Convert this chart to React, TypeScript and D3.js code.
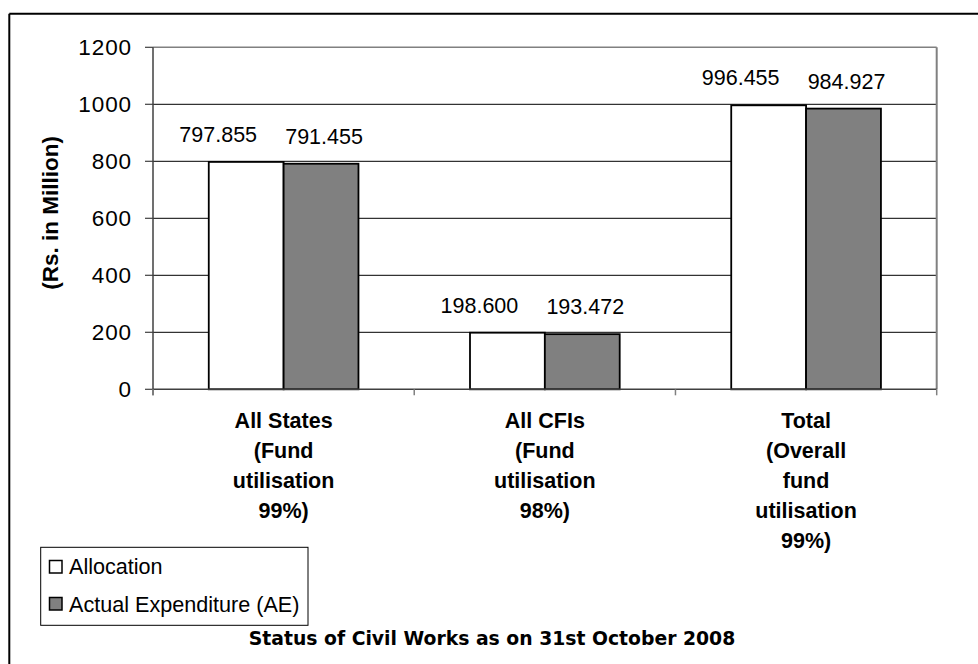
import React from "react";
import * as d3 from "d3";

const categories = ["All States", "All CFIs", "Total"];
const categoryLines = [
  ["All States", "(Fund", "utilisation", "99%)"],
  ["All CFIs", "(Fund", "utilisation", "98%)"],
  ["Total", "(Overall", "fund", "utilisation", "99%)"],
];
const seriesNames = ["Allocation", "Actual Expenditure (AE)"];
const allocation = [797.855, 198.6, 996.455];
const actualExpenditure = [791.455, 193.472, 984.927];
const yTicks = [0, 200, 400, 600, 800, 1000, 1200];
const yTitle = "(Rs. in Million)";
const chartTitle = "Status of Civil Works as on 31st October 2008";

const W = 978;
const H = 664;
const plot = { left: 153, right: 936.7, top: 47.3, bottom: 389.3 };
const fills = ["#ffffff", "#808080"];
const labelDx = [-28, 3];
const font = "'Liberation Sans', Arial, sans-serif";

export default function App() {
  const y = d3.scaleLinear().domain([0, 1200]).range([plot.bottom, plot.top]);
  const x0 = d3.scaleBand<string>().domain(categories).range([plot.left, plot.right]).padding(0);
  const x1 = d3
    .scaleBand<string>()
    .domain(seriesNames)
    .range([0, x0.bandwidth()])
    .paddingInner(0)
    .paddingOuter(0.745);
  const values = [allocation, actualExpenditure];

  return (
    <svg
      width={W}
      height={H}
      style={{ position: "absolute", left: 0, top: 0, background: "#fff" }}
      fontFamily={font}
    >
      <rect x={0} y={0} width={W} height={H} fill="#fff" />
      <line x1={9.3} y1={13.7} x2={W} y2={13.7} stroke="#000" strokeWidth={2} />
      <line x1={9.3} y1={13.7} x2={9.3} y2={H} stroke="#000" strokeWidth={2} />

      {yTicks.filter((t) => t > 0 && t < 1200).map((t) => (
        <line key={t} x1={plot.left} x2={plot.right} y1={y(t)} y2={y(t)} stroke="#000" strokeWidth={1} />
      ))}
      <line x1={plot.left} x2={plot.right} y1={y(1200)} y2={y(1200)} stroke="#808080" strokeWidth={1.5} />
      <line x1={plot.right} x2={plot.right} y1={y(1200)} y2={plot.bottom} stroke="#808080" strokeWidth={2} />

      {categories.map((c, i) => (
        <g key={c} transform={`translate(${x0(c)},0)`}>
          {seriesNames.map((s, j) => (
            <rect
              key={s}
              x={x1(s)}
              y={y(values[j][i])}
              width={x1.bandwidth()}
              height={plot.bottom - y(values[j][i])}
              fill={fills[j]}
              stroke="#000"
              strokeWidth={1.8}
            />
          ))}
          {seriesNames.map((s, j) => (
            <text
              key={s + "l"}
              x={(x1(s) as number) + x1.bandwidth() / 2 + labelDx[j]}
              y={y(values[j][i]) - 20}
              textAnchor="middle"
              fontSize={21.5}
              fill="#000"
            >
              {values[j][i].toFixed(3)}
            </text>
          ))}
        </g>
      ))}

      <line x1={plot.left} x2={plot.left} y1={plot.top} y2={plot.bottom + 6} stroke="#404040" strokeWidth={1.5} />
      {yTicks.map((t) => (
        <g key={t}>
          <line x1={plot.left - 8} x2={plot.left} y1={y(t)} y2={y(t)} stroke="#404040" strokeWidth={1.2} />
          <text x={plot.left - 21} y={y(t) + 7.8} textAnchor="end" fontSize={22.5} letterSpacing={0.9} fill="#000">
            {t}
          </text>
        </g>
      ))}
      <line x1={plot.left} x2={plot.right} y1={plot.bottom} y2={plot.bottom} stroke="#404040" strokeWidth={1.5} />
      {[...categories.map((c) => x0(c) as number), plot.right].map((xv, i) => (
        <line key={i} x1={xv} x2={xv} y1={plot.bottom} y2={plot.bottom + 6} stroke="#808080" strokeWidth={1.5} />
      ))}
      {categories.map((c, i) => (
        <text
          key={c}
          x={(x0(c) as number) + x0.bandwidth() / 2}
          textAnchor="middle"
          fontSize={21.5}
          fontWeight="bold"
          fill="#000"
        >
          {categoryLines[i].map((ln, k) => (
            <tspan key={k} x={(x0(c) as number) + x0.bandwidth() / 2} y={427.5 + k * 30}>
              {ln}
            </tspan>
          ))}
        </text>
      ))}

      <text
        transform={`translate(58, 213) rotate(-90)`}
        textAnchor="middle"
        fontSize={22.5}
        fontWeight="bold"
        fill="#000"
      >
        {yTitle}
      </text>

      <rect x={40.7} y={547.3} width={267.3} height={78} fill="#fff" stroke="#000" strokeWidth={1} />
      {seriesNames.map((s, j) => (
        <g key={s}>
          <rect x={49.5} y={560.5 + j * 37} width={12.5} height={12.5} fill={fills[j]} stroke="#000" strokeWidth={1.5} />
          <text x={69} y={574 + j * 37.5} fontSize={21.6} fill="#000">
            {s}
          </text>
        </g>
      ))}

      <text x={492} y={645} textAnchor="middle" fontSize={18.8} fontWeight="bold" fontFamily="'DejaVu Sans', Verdana, sans-serif" fill="#000">
        {chartTitle}
      </text>
    </svg>
  );
}
